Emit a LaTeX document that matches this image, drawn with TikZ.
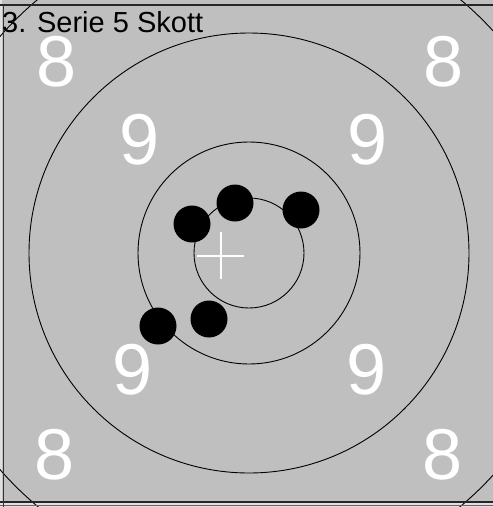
\documentclass[tikz,border=0pt]{standalone}
\usepackage{fontspec}
\setmainfont{Liberation Sans}
\begin{document}
\begin{tikzpicture}[x=1pt,y=-1pt,
  ring/.style={draw=black,line width=0.9pt},
  shot/.style={circle,fill=black,minimum size=37pt,inner sep=0pt},
  digit/.style={text=white,inner sep=0pt,font=\fontsize{72}{72}\selectfont},
  frameline/.style={draw=black!85,line width=1.6pt}]
\useasboundingbox (0,0) rectangle (493,507);
\fill[black!25] (0,0) rectangle (493,507);
\fill[black!12] (0,0) rectangle (2,507);
\fill[black!12] (0,503) rectangle (493,507);
\coordinate (c) at (249,253);
\begin{scope}
\clip (0,0) rectangle (493,507);
\draw[ring] (c) circle[radius=330];
\end{scope}
\draw[ring] (c) circle[radius=220];
\draw[ring] (c) circle[radius=111];
\draw[ring] (c) circle[radius=55];
% frame
\draw[frameline] (0,5) -- (493,5);
\draw[frameline] (0,502) -- (493,502);
\draw[draw=black!60,line width=0.8pt] (0,505.5) -- (493,505.5);
\draw[draw=black!80,line width=1pt] (3,5) -- (3,507);
% numbers
\node[digit] (e1) at (57,62) {8};
\node[digit] (e2) at (444,62) {8};
\node[digit] (e3) at (55,455) {8};
\node[digit] (e4) at (443,455) {8};
\node[digit] (n1) at (140,140) {9};
\node[digit] (n2) at (368,140) {9};
\node[digit] (n3) at (133,370) {9};
\node[digit] (n4) at (367,370) {9};
% shots
\node[shot] (s1) at (235,203) {};
\node[shot] (s2) at (192,224) {};
\node[shot] (s3) at (301,210) {};
\node[shot] (s4) at (209,319) {};
\node[shot] (s5) at (158,326) {};
% mean cross
\coordinate (m) at (220.5,255.5);
\draw[white,line width=2pt] ([xshift=-23.5pt]m) -- ([xshift=23.5pt]m);
\draw[white,line width=2pt] ([yshift=-23.5pt]m) -- ([yshift=23.5pt]m);
% title
\node[anchor=base west,inner sep=0pt,font=\fontsize{29}{29}\selectfont] (t) at (2,32) {3. Serie 5 Skott};
\end{tikzpicture}
\end{document}
